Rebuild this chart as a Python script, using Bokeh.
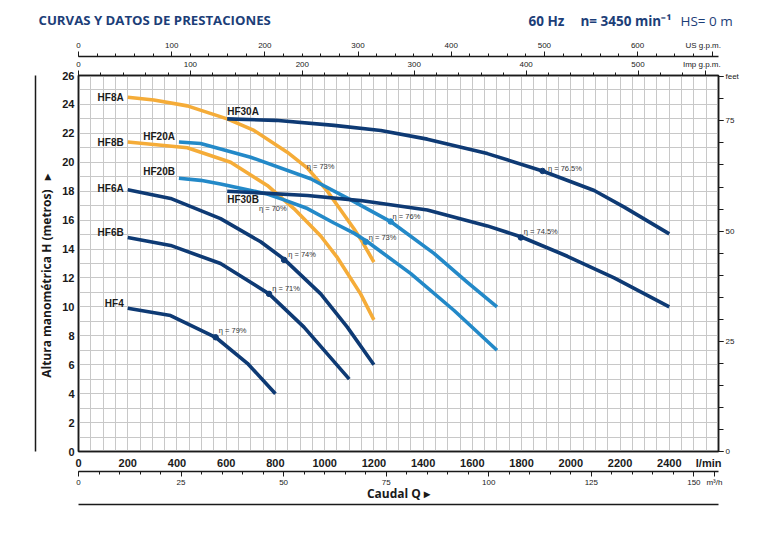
from bokeh.plotting import figure
from bokeh.layouts import column
from bokeh.models import Range1d, LinearAxis, FixedTicker, ColumnDataSource
from bokeh.core.properties import value
from bokeh.embed import file_html
from bokeh.resources import INLINE

# ---------------- data (Q in l/min, H in m) ----------------
hf8a_q = [200, 306, 442, 604, 713, 848, 930, 1011, 1119, 1146, 1200]
hf8a_h = [24.5, 24.3, 23.9, 23.0, 22.2, 20.7, 19.6, 18.0, 15.4, 14.7, 13.1]
hf8b_q = [200, 442, 618, 767, 875, 984, 1052, 1146, 1200]
hf8b_h = [21.4, 21.0, 20.0, 18.4, 16.8, 14.9, 13.4, 10.9, 9.1]
hf20a_q = [408, 496, 699, 943, 1106, 1268, 1444, 1580, 1700]
hf20a_h = [21.4, 21.3, 20.35, 18.86, 17.4, 15.9, 13.7, 11.7, 10.0]
hf20b_q = [408, 496, 577, 767, 835, 930, 1038, 1119, 1174, 1350, 1526, 1700]
hf20b_h = [18.9, 18.75, 18.5, 17.8, 17.4, 16.8, 15.8, 15.1, 14.5, 12.3, 9.75, 7.0]
hf30a_q = [604, 800, 1038, 1228, 1417, 1661, 1885, 2095, 2217, 2400]
hf30a_h = [23.0, 22.9, 22.55, 22.2, 21.6, 20.6, 19.4, 18.05, 16.9, 15.05]
hf30b_q = [604, 930, 1146, 1417, 1661, 1797, 1986, 2176, 2400]
hf30b_h = [18.0, 17.7, 17.35, 16.7, 15.6, 14.85, 13.5, 12.0, 10.0]
hf6a_q = [200, 374, 577, 740, 835, 984, 1092, 1200]
hf6a_h = [18.1, 17.5, 16.1, 14.5, 13.3, 10.9, 8.6, 6.0]
hf6b_q = [200, 374, 577, 774, 916, 1100]
hf6b_h = [14.8, 14.25, 13.0, 10.9, 8.6, 5.0]
hf4_q = [200, 374, 557, 686, 800]
hf4_h = [9.9, 9.4, 7.9, 6.1, 4.0]

# efficiency points on curves
eta_q = [557, 774, 835, 1268, 1167, 1885, 1797]
eta_h = [7.9, 10.9, 13.25, 15.9, 14.5, 19.4, 14.8]
eta_col = ["navy", "navy", "navy", "blue", "blue", "navy", "navy"]
# efficiency texts (left end of text)
eta_text = ["η = 79%", "η = 71%", "η = 74%", "η = 70%", "η = 73%", "η = 76%", "η = 73%", "η = 76.5%", "η = 74.5%"]
eta_tq = [570, 787, 852, 733, 927, 1276, 1179, 1907, 1809]
eta_th = [8.35, 11.3, 13.6, 16.8, 19.7, 16.25, 14.8, 19.6, 15.2]

x_ticks = list(range(0, 2401, 200))
y_ticks = list(range(0, 27, 2))
us_ticks = list(range(0, 601, 100))
imp_ticks = list(range(0, 501, 100))
m3_ticks = list(range(0, 151, 25))
ft_ticks = [0, 25, 50, 75]

title_text = "CURVAS Y DATOS DE PRESTACIONES"
header_bold = ["60 Hz", "n= 3450 min⁻¹"]
header_plain = "HS= 0 m"

ORANGE = "#F5AC38"
BLUE = "#2389C8"
NAVY = "#0E3A74"
TITLE = "#1C3E78"
INK = "#1a1a1a"
NARROW = "Liberation Sans"
cmap = {"navy": NAVY, "blue": BLUE, "orange": ORANGE}
NB = "\u00a0"

XMAX, YMAX = 2600, 26
PAGE_W = 770
HEAD_H = 34

# ---------------- header strip ----------------
head = figure(width=PAGE_W, height=HEAD_H, output_backend="svg", toolbar_location=None,
              x_range=Range1d(0, PAGE_W), y_range=Range1d(HEAD_H, 0),
              x_axis_location=None, y_axis_location=None, min_border=0)
if "frame_align" in head.properties():
    head.frame_align = False
head.grid.visible = False
head.outline_line_color = None
head.background_fill_color = "white"
head.border_fill_color = "white"
head.text(x=[38], y=[19], text=[title_text], text_font=value("Open Sans"), text_font_style="bold",
          text_font_size="13.2px", text_color=TITLE, text_align="left", text_baseline="middle")
head.text(x=[528, 580], y=[20, 20], text=header_bold, text_font=value("Open Sans"),
          text_font_style="bold", text_font_size="13.5px", text_color=TITLE,
          text_align="left", text_baseline="middle")
head.text(x=[680], y=[20], text=[header_plain], text_font=value("Open Sans"),
          text_font_size="13.5px", text_color=TITLE, text_align="left", text_baseline="middle")

# ---------------- main chart ----------------
p = figure(width=PAGE_W, height=534 - HEAD_H, output_backend="svg", toolbar_location=None,
           x_range=Range1d(0, XMAX), y_range=Range1d(0, YMAX),
           min_border_left=78, min_border_right=52, min_border_top=75 - HEAD_H, min_border_bottom=83)
if "frame_align" in p.properties():
    p.frame_align = False
p.background_fill_color = "white"
p.border_fill_color = "white"
p.outline_line_color = INK
p.outline_line_width = 1.5

p.xgrid.ticker = FixedTicker(ticks=list(range(0, XMAX + 1, 50)))
p.ygrid.ticker = FixedTicker(ticks=list(range(0, YMAX + 1, 1)))
p.xgrid.grid_line_color = "#c8c8c8"
p.ygrid.grid_line_color = "#c8c8c8"


def style_axis(ax, size, bold=False, tick_out=0, minor_out=0, standoff=2):
    ax.axis_line_color = INK
    ax.axis_line_width = 1.5
    ax.major_tick_line_color = INK
    ax.minor_tick_line_color = INK
    ax.major_tick_in = 0
    ax.minor_tick_in = 0
    ax.major_tick_out = tick_out
    ax.minor_tick_out = minor_out
    ax.major_label_text_font = NARROW
    ax.major_label_text_font_size = size
    ax.major_label_text_font_style = "bold" if bold else "normal"
    ax.major_label_text_color = INK
    ax.major_label_standoff = standoff


# primary axes
p.xaxis.ticker = FixedTicker(ticks=x_ticks + [2560])
p.xaxis.major_label_overrides = {2560: "l/min"}
style_axis(p.xaxis[0], "11px", bold=True, standoff=5)

p.yaxis.ticker = FixedTicker(ticks=y_ticks)
style_axis(p.yaxis[0], "11px", bold=True, standoff=4)
p.yaxis.axis_label = "Altura manométrica H (metros)" + NB * 3 + "▸" + NB * 8
p.yaxis.axis_label_text_font = "Open Sans"
p.yaxis.axis_label_text_font_style = "bold"
p.yaxis.axis_label_text_font_size = "12px"
p.yaxis.axis_label_text_color = INK
p.yaxis.axis_label_standoff = 4

# secondary ranges
p.extra_x_ranges = {
    "us": Range1d(0, XMAX / 3.785411784),
    "imp": Range1d(0, XMAX / 4.54609),
    "m3": Range1d(0, XMAX * 60 / 1000),
}
p.extra_y_ranges = {"ft": Range1d(0, YMAX / 0.3048)}

imp_ax = LinearAxis(x_range_name="imp",
                    ticker=FixedTicker(ticks=imp_ticks + [560], minor_ticks=list(range(0, 572, 20))),
                    major_label_overrides={560: "Imp g.p.m." + NB * 3})
style_axis(imp_ax, "8px", tick_out=5, minor_out=3, standoff=2)
p.add_layout(imp_ax, "above")
us_ax = LinearAxis(x_range_name="us",
                   ticker=FixedTicker(ticks=us_ticks + [680], minor_ticks=list(range(0, 687, 20))),
                   major_label_overrides={680: "US g.p.m." + NB * 8})
style_axis(us_ax, "8px", tick_out=5, minor_out=3, standoff=2)
p.add_layout(us_ax, "above")

m3_ax = LinearAxis(x_range_name="m3",
                   ticker=FixedTicker(ticks=m3_ticks + [155], minor_ticks=list(range(0, 156, 5))),
                   major_label_overrides={155: "m³/h"})
style_axis(m3_ax, "8px", tick_out=5, minor_out=3, standoff=1)
m3_ax.axis_label = "Caudal Q" + NB + "▸"
m3_ax.axis_label_text_font = "Open Sans"
m3_ax.axis_label_text_font_style = "bold"
m3_ax.axis_label_text_font_size = "12px"
m3_ax.axis_label_text_color = INK
m3_ax.axis_label_standoff = -5
p.add_layout(m3_ax, "below")

# plain rule lines (axes without ticks)
rule_b = LinearAxis(ticker=FixedTicker(ticks=[]))
style_axis(rule_b, "1px")
p.add_layout(rule_b, "below")
rule_l = LinearAxis(ticker=FixedTicker(ticks=[]))
style_axis(rule_l, "1px")
p.add_layout(rule_l, "left")

ft_ax = LinearAxis(y_range_name="ft",
                   ticker=FixedTicker(ticks=ft_ticks + [85], minor_ticks=list(range(0, 86, 5))),
                   major_label_overrides={85: "feet"})
style_axis(ft_ax, "8px", tick_out=5, minor_out=5, standoff=2)
p.add_layout(ft_ax, "right")

# ---------------- curves ----------------
curves = [
    ("HF8A", hf8a_q, hf8a_h, "orange"),
    ("HF8B", hf8b_q, hf8b_h, "orange"),
    ("HF20A", hf20a_q, hf20a_h, "blue"),
    ("HF20B", hf20b_q, hf20b_h, "blue"),
    ("HF30A", hf30a_q, hf30a_h, "navy"),
    ("HF30B", hf30b_q, hf30b_h, "navy"),
    ("HF6A", hf6a_q, hf6a_h, "navy"),
    ("HF6B", hf6b_q, hf6b_h, "navy"),
    ("HF4", hf4_q, hf4_h, "navy"),
]
for name, q, h, c in curves:
    p.line(q, h, line_color=cmap[c], line_width=3.6, line_cap="butt", line_join="round")

p.scatter(eta_q, eta_h, size=5.5, color=[cmap[c] for c in eta_col])

p.text(x=eta_tq, y=eta_th, text=eta_text, text_font=value(NARROW), text_font_size="7.5px",
       text_color="#333333", text_align="left", text_baseline="middle")

# curve name labels, anchored at curve start points
starts = {n: (q[0], h[0]) for n, q, h, c in curves}
left_names = ["HF8A", "HF8B", "HF20A", "HF20B", "HF6A", "HF6B", "HF4"]
left_dy = [0, 0, -6, -7, -1, -5, -5]
lsrc = ColumnDataSource(dict(x=[starts[n][0] for n in left_names],
                             y=[starts[n][1] for n in left_names],
                             t=left_names, dy=left_dy))
p.text(x="x", y="y", text="t", source=lsrc, x_offset=-4, y_offset="dy",
       text_font=value(NARROW), text_font_style="bold", text_font_size="10px",
       text_color=INK, text_align="right", text_baseline="middle")
right_names = ["HF30A", "HF30B"]
rsrc = ColumnDataSource(dict(x=[starts[n][0] for n in right_names],
                             y=[starts[n][1] for n in right_names],
                             t=right_names, dy=[-7, 8]))
p.text(x="x", y="y", text="t", source=rsrc, x_offset=0, y_offset="dy",
       text_font=value(NARROW), text_font_style="bold", text_font_size="10px",
       text_color=INK, text_align="left", text_baseline="middle")

layout = column(head, p, spacing=0)
open("out.html", "w").write(file_html(layout, INLINE))
